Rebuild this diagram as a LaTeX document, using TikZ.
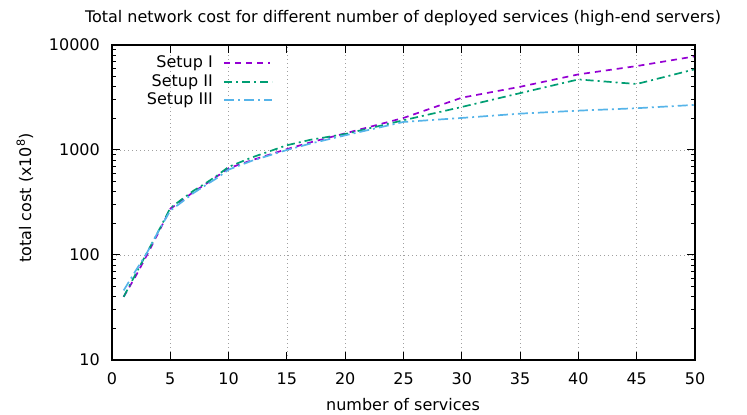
\documentclass[tikz,border=0pt]{standalone}
\usepackage{fontspec}
\setmainfont{DejaVu Sans}
\definecolor{setupone}{HTML}{9400D3}
\definecolor{setuptwo}{HTML}{009E73}
\definecolor{setupthree}{HTML}{56B4E9}
\definecolor{gridgray}{HTML}{A0A0A0}
\tikzset{
  lbl/.style={font=\fontsize{16}{19}\selectfont, inner sep=0pt},
  gridline/.style={gridgray, line width=0.7pt, dash pattern=on 1pt off 3pt},
  frameline/.style={black, line width=1.2pt},
  tickline/.style={black, line width=1pt},
  curveone/.style={setupone, line width=1.7pt, dash pattern=on 6pt off 5pt},
  curvetwo/.style={setuptwo, line width=1.7pt, dash pattern=on 8pt off 4pt on 2pt off 4pt},
  curvethree/.style={setupthree, line width=1.7pt, dash pattern=on 10pt off 4pt on 2pt off 4pt},
}
\begin{document}
\begin{tikzpicture}[x=1pt,y=1pt]
\useasboundingbox (0,0) rectangle (747,415);

% plot area: 0..50 on x, decades 10..10000 on y (log10(v)-1)
\begin{scope}[shift={(112,55)}, x=11.66pt, y=105pt]
  % grid
  \foreach \i in {5,10,...,45} \draw[gridline] (\i,0) -- (\i,3);
  \foreach \j in {1,2} \draw[gridline] (0,\j) -- (50,\j);

  % x ticks and labels
  \foreach \i in {0,5,...,50} {
    \draw[tickline] (\i,0) -- ++(0,8pt);
    \draw[tickline] (\i,3) -- ++(0,-8pt);
    \node[lbl, anchor=center] (xt\i) at ([yshift=-19pt]\i,0) {\i};
  }
  % y ticks (major and minor) and labels
  \foreach \d/\t in {0/10,1/100,2/1000,3/10000} {
    \draw[tickline] (0,\d) -- ++(8pt,0);
    \draw[tickline] (50,\d) -- ++(-8pt,0);
    \node[lbl, anchor=east] (yt\d) at ([xshift=-12pt]0,\d) {\t};
  }
  \foreach \d in {0,1,2} {
    \foreach \m in {2,...,9} {
      \draw[tickline] (0,{\d+log10(\m)}) -- ++(4pt,0);
      \draw[tickline] (50,{\d+log10(\m)}) -- ++(-4pt,0);
    }
  }

  % Setup I
  \draw[curveone] plot coordinates {
    (1,{log10(40)-1}) (2,{log10(62)-1}) (3,{log10(100)-1}) (4,{log10(165)-1})
    (5,{log10(275)-1}) (6,{log10(330)-1}) (7,{log10(400)-1}) (8,{log10(470)-1})
    (9,{log10(560)-1}) (10,{log10(670)-1}) (12,{log10(800)-1}) (15,{log10(1020)-1})
    (17,{log10(1180)-1}) (20,{log10(1440)-1}) (25,{log10(2020)-1}) (30,{log10(3150)-1})
    (35,{log10(4000)-1}) (40,{log10(5250)-1}) (45,{log10(6300)-1}) (50,{log10(7800)-1})};
  % Setup II
  \draw[curvetwo] plot coordinates {
    (1,{log10(40)-1}) (2,{log10(65)-1}) (3,{log10(105)-1}) (4,{log10(170)-1})
    (5,{log10(280)-1}) (6,{log10(340)-1}) (7,{log10(410)-1}) (8,{log10(480)-1})
    (9,{log10(570)-1}) (10,{log10(690)-1}) (12,{log10(850)-1}) (15,{log10(1110)-1})
    (17,{log10(1250)-1}) (20,{log10(1420)-1}) (25,{log10(1920)-1}) (30,{log10(2570)-1})
    (35,{log10(3480)-1}) (40,{log10(4700)-1}) (45,{log10(4250)-1}) (50,{log10(5880)-1})};
  % Setup III
  \draw[curvethree] plot coordinates {
    (1,{log10(46)-1}) (2,{log10(70)-1}) (3,{log10(105)-1}) (4,{log10(170)-1})
    (5,{log10(265)-1}) (6,{log10(320)-1}) (7,{log10(390)-1}) (8,{log10(460)-1})
    (9,{log10(540)-1}) (10,{log10(650)-1}) (12,{log10(790)-1}) (15,{log10(1000)-1})
    (17,{log10(1150)-1}) (20,{log10(1380)-1}) (25,{log10(1850)-1}) (30,{log10(2020)-1})
    (35,{log10(2220)-1}) (40,{log10(2370)-1}) (45,{log10(2500)-1}) (50,{log10(2690)-1})};

  % frame
  \draw[frameline] (0,0) rectangle (50,3);
\end{scope}

% legend
\node[lbl, anchor=east] (l1) at (213,352) {Setup I};
\node[lbl, anchor=east] (l2) at (213,333) {Setup II};
\node[lbl, anchor=east] (l3) at (213,315) {Setup III};
\coordinate (s1a) at (224,352); \coordinate (s1b) at (270,352);
\coordinate (s2a) at (224,333); \coordinate (s2b) at (272,333);
\coordinate (s3a) at (224,315); \coordinate (s3b) at (272,315);
\draw[curveone] (s1a) -- (s1b);
\draw[curvetwo] (s2a) -- (s2b);
\draw[curvethree] (s3a) -- (s3b);

% titles
\node[lbl] (title) at (403,397) {Total network cost for different number of deployed services (high-end servers)};
\node[lbl] (xlabel) at (403,10) {number of services};
\node[lbl, rotate=90] (ylabel) at (25,217) {total cost (x10\textsuperscript{8})};
\end{tikzpicture}
\end{document}
